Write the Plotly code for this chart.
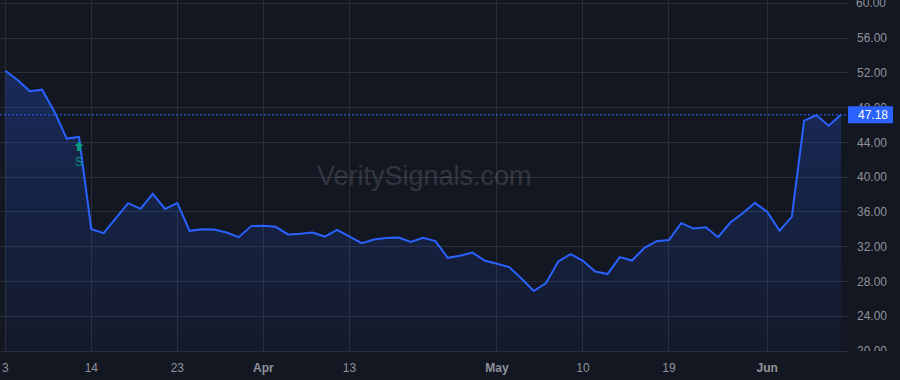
import plotly.graph_objects as go

# ---- data ----
close = [52.25, 51.18, 49.89, 50.07, 47.54, 44.44, 44.63, 34.02, 33.56, 35.29,
         37.01, 36.36, 38.08, 36.34, 37.01, 33.83, 34.02, 33.98, 33.63, 33.10,
         34.37, 34.40, 34.29, 33.42, 33.48, 33.63, 33.17, 33.94, 33.22, 32.41,
         32.83, 32.99, 33.06, 32.56, 33.02, 32.64, 30.72, 30.95, 31.33, 30.41,
         30.03, 29.65, 28.34, 26.90, 27.82, 30.30, 31.15, 30.38, 29.15, 28.85,
         30.80, 30.41, 31.87, 32.64, 32.76, 34.71, 34.09, 34.23, 33.10, 34.78,
         35.86, 37.05, 36.01, 33.83, 35.47, 46.51, 47.13, 45.93, 47.18]
tick_bars = [0, 7, 14, 21, 28, 40, 47, 54, 62]
tick_labels = ["3", "14", "23", "<b>Apr</b>", "13", "<b>May</b>", "10", "19", "<b>Jun</b>"]
price_ticks = [20, 24, 28, 32, 36, 40, 44, 48, 52, 56, 60]
signal_bar = 6
signal_text = "S"
watermark = "VeritySignals.com"

bars = list(range(len(close)))
last = close[-1]

BG = "#131722"
GRID = "#2a2e39"
BLUE = "#2962ff"
TEAL = "#089981"
TXT = "#8f929b"
FONT = "Liberation Sans, Arial, sans-serif"

fig = go.Figure()
fig.add_trace(go.Scatter(
    x=bars, y=close, mode="lines",
    line=dict(color=BLUE, width=2),
    fill="tozeroy",
    fillgradient=dict(type="vertical",
                      colorscale=[[0, "rgba(41,98,255,0.04)"], [1, "rgba(41,98,255,0.26)"]],
                      start=20, stop=max(close)),
    hoverinfo="skip", showlegend=False,
))

shapes = [
    # last price dotted line
    dict(type="line", xref="paper", x0=0, x1=1, yref="y", y0=last, y1=last,
         line=dict(color=BLUE, width=1, dash="2px,2px"), layer="above"),
    # last price label box on the price scale
    dict(type="rect", xref="paper", x0=1, x1=1 + 45 / 848, yref="y", ysizemode="pixel",
         yanchor=last, y0=-8.5, y1=8.5, fillcolor=BLUE, line=dict(width=0), layer="above"),
    # cover lower half of bottom price label (time-scale area)
    dict(type="rect", xref="paper", x0=1, x1=1.08, yref="paper", y0=-0.2, y1=0,
         fillcolor=BG, line=dict(width=0), layer="above"),
    # signal arrow (up)
    dict(type="path", xref="x", xsizemode="pixel", xanchor=signal_bar,
         yref="y", ysizemode="pixel", yanchor=close[signal_bar],
         path="M0,-4.5 L4.5,-9 L2,-9 L2,-14 L-2,-14 L-2,-9 L-4.5,-9 Z",
         fillcolor=TEAL, line=dict(width=0), layer="above"),
]

annotations = [
    dict(text=watermark, xref="paper", yref="paper", x=0.5, y=0.5,
         xanchor="center", yanchor="middle", showarrow=False,
         font=dict(family=FONT, size=27, color="rgba(255,255,255,0.15)")),
    dict(text=f"{last:.2f}", xref="paper", x=1, xanchor="left", xshift=8,
         yref="y", y=last, yanchor="middle", showarrow=False,
         font=dict(family=FONT, size=12, color="#ffffff")),
    dict(text=signal_text, xref="x", x=signal_bar, yref="y", y=close[signal_bar],
         yshift=-25, xanchor="center", yanchor="middle", showarrow=False,
         font=dict(family=FONT, size=12, color=TEAL)),
    # top price label (plotly drops it because it runs past the page top)
    dict(text=f"{price_ticks[-1]:.2f}", xref="paper", x=1, xanchor="left", xshift=6,
         yref="y", y=price_ticks[-1], yanchor="middle", showarrow=False,
         font=dict(family=FONT, size=12, color=TXT)),
]

fig.update_layout(
    width=900, height=380,
    margin=dict(l=0, r=52, t=0, b=29),
    paper_bgcolor=BG, plot_bgcolor=BG,
    shapes=shapes, annotations=annotations,
    font=dict(family=FONT, size=12, color=TXT),
    xaxis=dict(range=[-0.43, 68.57], tickmode="array", tickvals=tick_bars,
               ticktext=tick_labels, showgrid=True, gridcolor=GRID, gridwidth=1,
               zeroline=False, showline=True, linecolor=GRID, linewidth=1,
               ticks="", ticklabelstandoff=6, tickfont=dict(size=12, color=TXT)),
    yaxis=dict(range=[20, 60.39], side="right", tickmode="array", tickvals=price_ticks[:-1],
               ticktext=[f"{v:.2f}" for v in price_ticks[:-1]],
               showgrid=True, gridcolor=GRID, gridwidth=1, zeroline=False,
               showline=False, ticks="", ticklabelstandoff=8,
               tickfont=dict(size=12, color=TXT)),
    hovermode=False,
)
# grid line for the top price level
fig.add_hline(y=price_ticks[-1], line=dict(color=GRID, width=1), layer="below")

fig.write_html("out.html")
